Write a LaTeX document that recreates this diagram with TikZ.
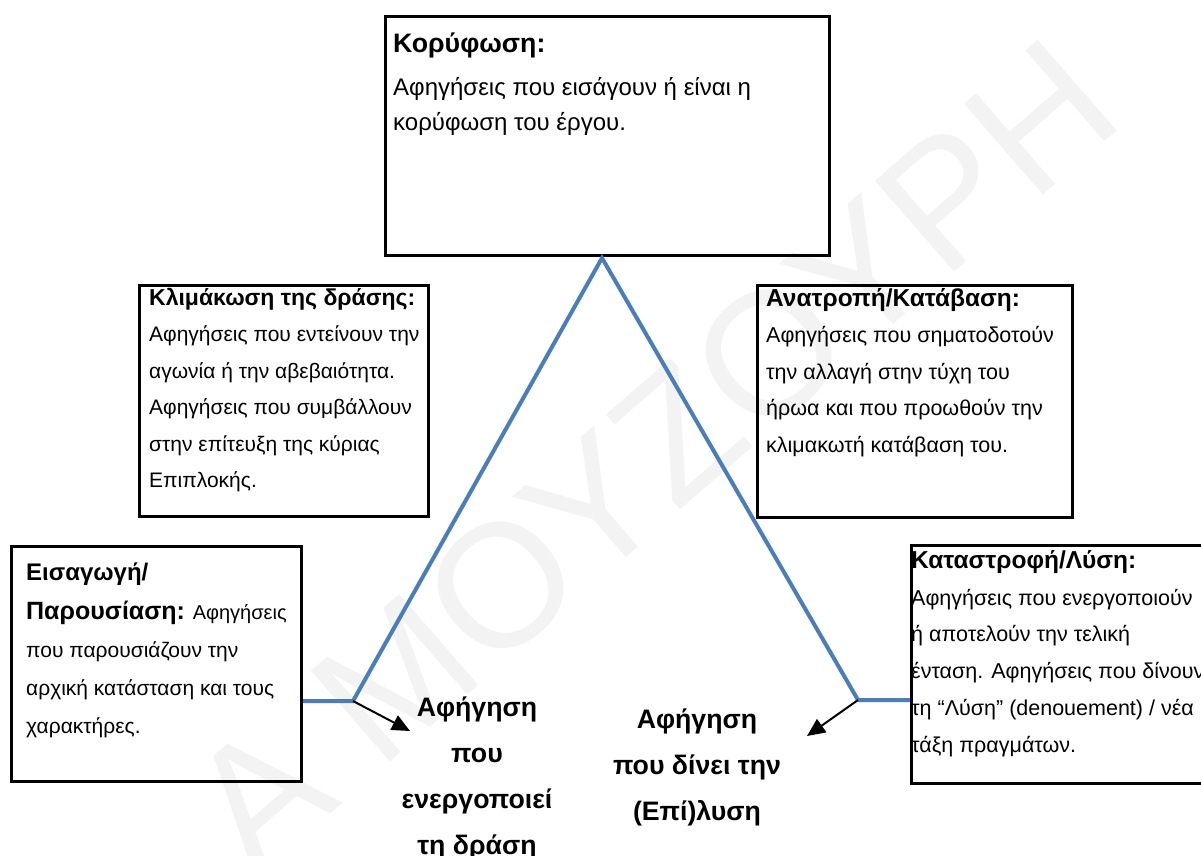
\documentclass[tikz,border=0pt]{standalone}
\usepackage{fontspec}
\setmainfont{Liberation Sans}
\usetikzlibrary{arrows.meta}
\definecolor{lineblue}{HTML}{4A7EBB}
\definecolor{wmgray}{HTML}{F3F3F3}
\newcommand{\ttl}[2]{{\bfseries\fontsize{#1}{#1}\selectfont #2}}
\newcommand{\sml}[2]{{\fontsize{#1}{#1}\selectfont #2}}
\begin{document}
\begin{tikzpicture}[x=1pt,y=-1pt,
  box/.style={draw=black, line width=3pt, anchor=north west, inner sep=0pt},
  txt/.style={anchor=north west, inner sep=0pt, align=left, font=\fontsize{21.5}{36.5}\selectfont},
  lab/.style={inner sep=0pt, align=center, font=\bfseries\fontsize{26.7}{46}\selectfont},
  plotline/.style={draw=lineblue, line width=4pt},
  arr/.style={draw=black, line width=2pt, -{Triangle[length=18pt,width=16pt]}}]
\useasboundingbox (0,0) rectangle (1201,855);
% watermark
\node[text=wmgray, font=\fontsize{175}{175}\selectfont, rotate=41, anchor=base west, inner sep=0pt] (wm) at (255,880) {Α ΜΟΥΖΟΥΡΗ};
% boxes
\node[box, minimum width=444pt, minimum height=239pt] (top) at (384,15) {};
\node[box, minimum width=289pt, minimum height=231pt] (klim) at (138,284) {};
\node[box, minimum width=315pt, minimum height=232pt] (anat) at (756,284) {};
\node[box, minimum width=290pt, minimum height=235pt] (intro) at (10,545) {};
\node[box, minimum width=300pt, minimum height=238pt] (kat) at (910,544) {};
% texts
\node[txt, font=\fontsize{24}{35}\selectfont] (topt) at (393,33) {\ttl{26.7}{Κορύφωση:}\\[8pt]Αφηγήσεις που εισάγουν ή είναι η\\κορύφωση του έργου.};
\node[txt, font=\fontsize{21}{36.5}\selectfont] (klimt) at (149,288) {\ttl{23}{Κλιμάκωση της δράσης:}\\Αφηγήσεις που εντείνουν την\\αγωνία ή την αβεβαιότητα.\\Αφηγήσεις που συμβάλλουν\\στην επίτευξη της κύριας\\Επιπλοκής.};
\node[txt] (anatt) at (766,288) {\ttl{24.5}{Ανατροπή/Κατάβαση:}\\Αφηγήσεις που σηματοδοτούν\\την αλλαγή στην τύχη του\\ήρωα και που προωθούν την\\κλιμακωτή κατάβαση του.};
\node[txt, font=\fontsize{21}{38.2}\selectfont] (introt) at (26,563) {\ttl{24}{Εισαγωγή/}\\\ttl{25}{Παρουσίαση:} \sml{20}{Αφηγήσεις}\\που παρουσιάζουν την\\αρχική κατάσταση και τους\\χαρακτήρες.};
\node[txt, font=\fontsize{21.5}{36.8}\selectfont] (katt) at (911,550) {\ttl{24.5}{Καταστροφή/Λύση:}\\Αφηγήσεις που ενεργοποιούν\\ή αποτελούν την τελική\\ένταση. Αφηγήσεις που δίνουν\\τη “Λύση” (denouement) / νέα\\τάξη πραγμάτων.};
% bottom labels
\node[lab, anchor=north] (lab1) at (477,697) {Αφήγηση\\που\\ενεργοποιεί\\τη δράση};
\node[lab, anchor=north] (lab2) at (697,709) {Αφήγηση\\που δίνει την\\(Επί)λυση};
% plot line
\coordinate (lb) at (353,701);
\coordinate (apex) at (602,258);
\coordinate (rb) at (858,700);
\coordinate (a1) at (410,731);
\coordinate (a2) at (807,736);
\draw[plotline] (intro.east |- lb) -- (lb) -- (apex) -- (rb) -- (kat.west |- rb);
\draw[arr] (lb) -- (a1);
\draw[arr] (rb) -- (a2);
\end{tikzpicture}
\end{document}
